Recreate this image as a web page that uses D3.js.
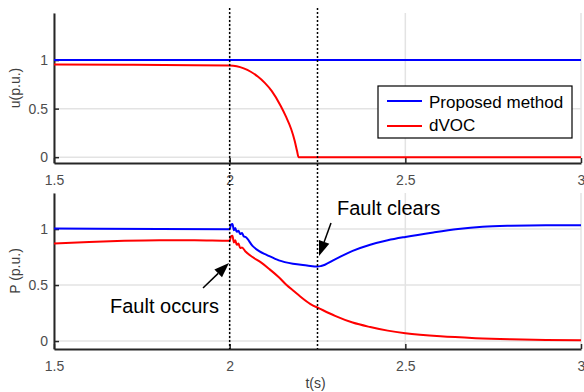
<!DOCTYPE html>
<html>
<head>
<meta charset="utf-8">
<script src="https://cdn.jsdelivr.net/npm/d3@7"></script>
<style>
    body { margin: 0; background: #fff; }
    text { font-family: Arial, "Liberation Sans", sans-serif; }
</style>
</head>
<body>
<svg id="chart" width="584" height="392"></svg>
<script>
// top panel: voltage u
let tU = [1.5, 1.7, 1.9, 2.0, 2.02, 2.04, 2.06, 2.08, 2.10, 2.12, 2.145, 2.16, 2.175, 2.185, 2.192, 2.196, 2.5, 3.0]
let uProposed = [1, 1, 1, 1, 1, 1, 1, 1, 1, 1, 1, 1, 1, 1, 1, 1, 1, 1]
let uDvoc = [0.955, 0.952, 0.948, 0.945, 0.937, 0.915, 0.88, 0.83, 0.765, 0.68, 0.53, 0.42, 0.29, 0.17, 0.06, 0, 0, 0]

// bottom panel: active power P
let tPb = [1.5, 1.8, 2.0, 2.004, 2.008, 2.012, 2.016, 2.02, 2.025, 2.03, 2.035, 2.04, 2.045, 2.065, 2.085, 2.105,
    2.14, 2.18, 2.22, 2.25, 2.26, 2.3, 2.35, 2.4, 2.45, 2.5, 2.58, 2.65, 2.72, 2.8, 2.9, 3.0]
let pProposed = [1.005, 1.0, 0.998, 1.04, 1.045, 0.99, 1.01, 0.975, 0.985, 0.955, 0.965, 0.935, 0.93, 0.85, 0.80, 0.77,
    0.72, 0.69, 0.675, 0.665, 0.67, 0.73, 0.805, 0.86, 0.9, 0.93, 0.97, 1.0, 1.02, 1.03, 1.035, 1.033]
let tPr = [1.5, 1.6, 1.7, 1.8, 1.9, 2.0, 2.004, 2.008, 2.012, 2.016, 2.02, 2.025, 2.03, 2.035, 2.045, 2.065, 2.09, 2.114,
    2.14, 2.162, 2.185, 2.2, 2.23, 2.256, 2.3, 2.35, 2.4, 2.45, 2.5, 2.6, 2.7, 2.8, 2.9, 3.0]
let pDvoc = [0.87, 0.885, 0.895, 0.9, 0.9, 0.895, 0.935, 0.94, 0.88, 0.9, 0.86, 0.87, 0.83, 0.835, 0.8, 0.75, 0.7, 0.64,
    0.57, 0.5, 0.44, 0.40, 0.33, 0.29, 0.225, 0.165, 0.125, 0.093, 0.07, 0.042, 0.026, 0.016, 0.01, 0.008]

let xTicks = [1.5, 2, 2.5, 3]
let yTicks = [0, 0.5, 1]
let faultTimes = [2, 2.25]
let seriesNames = ['Proposed method', 'dVOC']
let colors = ['#0000ff', '#ff0000']

let svg = d3.select('#chart')

let xScale = d3.scaleLinear().domain([1.5, 3]).range([54, 581])
let yTop = d3.scaleLinear().domain([-0.06, 1.485]).range([163, 13])
let yBot = d3.scaleLinear().domain([-0.071, 1.322]).range([349, 193])

function drawPanel(yScale, label) {
    let y0 = yScale.range()[0], y1 = yScale.range()[1]
    let g = svg.append('g')

    // grid
    g.selectAll('.hgrid').data(yTicks).enter().append('line')
        .attr('x1', xScale(1.5)).attr('x2', xScale(3))
        .attr('y1', d => yScale(d)).attr('y2', d => yScale(d))
        .attr('stroke', '#e3e3e3').attr('stroke-width', 1.5)
    g.selectAll('.vgrid').data(xTicks).enter().append('line')
        .attr('x1', d => xScale(d)).attr('x2', d => xScale(d))
        .attr('y1', y0).attr('y2', y1)
        .attr('stroke', '#e3e3e3').attr('stroke-width', 1.5)

    // x-axis, ticks pointing in
    let xAxis = g.append('g')
        .attr('transform', `translate(0, ${y0})`)
        .call(d3.axisBottom(xScale).tickValues(xTicks).tickFormat(d3.format('')).tickSizeInner(-5).tickSizeOuter(0).tickPadding(12))
    // y-axis
    let yAxis = g.append('g')
        .attr('transform', `translate(${xScale(1.5)}, 0)`)
        .call(d3.axisLeft(yScale).tickValues(yTicks).tickFormat(d3.format('')).tickSizeInner(-5).tickSizeOuter(0).tickPadding(6))

    for (let ax of [xAxis, yAxis]) {
        ax.select('.domain').attr('stroke', '#262626').attr('stroke-width', 2)
        ax.selectAll('.tick line').attr('stroke', '#262626').attr('stroke-width', 1.5)
        ax.selectAll('.tick text').attr('fill', '#4d4d4d').style('font-size', '14px')
    }

    // y-axis label
    g.append('text')
        .text(label)
        .attr('transform', `translate(20, ${(y0 + y1) / 2}) rotate(-90)`)
        .attr('text-anchor', 'middle')
        .attr('fill', '#404040')
        .style('font-size', '14px')
}

drawPanel(yTop, 'u(p.u.)')
drawPanel(yBot, 'P (p.u.)')

let line = (ts, vals, yScale) => d3.line()
    .x((d, i) => xScale(ts[i]))
    .y(d => yScale(d))
    .curve(d3.curveMonotoneX)(vals)

let curves = [
    [tU, uProposed, yTop, 0], [tU, uDvoc, yTop, 1],
    [tPb, pProposed, yBot, 0], [tPr, pDvoc, yBot, 1]
]
curves.forEach(c => {
    svg.append('path')
        .attr('d', line(c[0], c[1], c[2]))
        .attr('fill', 'none')
        .attr('stroke', colors[c[3]])
        .attr('stroke-width', 2)
        .attr('stroke-linejoin', 'round')
})

// fault markers
svg.selectAll('.fault').data(faultTimes).enter().append('line')
    .attr('x1', d => xScale(d)).attr('x2', d => xScale(d))
    .attr('y1', 8).attr('y2', 349)
    .attr('stroke', '#000').attr('stroke-width', 1.5)
    .attr('stroke-dasharray', '2,2')

// x label
svg.append('text')
    .text('t(s)')
    .attr('x', (xScale(1.5) + xScale(3)) / 2 - 2).attr('y', 388)
    .attr('text-anchor', 'middle')
    .attr('fill', '#404040')
    .style('font-size', '14px')

// legend
let leg = svg.append('g')
leg.append('rect')
    .attr('x', 378).attr('y', 86).attr('width', 194).attr('height', 52)
    .attr('fill', '#fff').attr('stroke', '#000').attr('stroke-width', 1.2)
seriesNames.forEach((name, i) => {
    leg.append('line')
        .attr('x1', 387).attr('x2', 422)
        .attr('y1', 101 + i * 25).attr('y2', 101 + i * 25)
        .attr('stroke', colors[i]).attr('stroke-width', 2)
    leg.append('text')
        .text(name)
        .attr('x', 429).attr('y', 108 + i * 23)
        .attr('fill', '#000')
        .style('font-size', '17px')
})

// annotation arrows, head drawn as a filled triangle
function arrow(x1, y1, x2, y2) {
    let len = 15, half = 5.5
    let dx = x2 - x1, dy = y2 - y1
    let d = Math.sqrt(dx * dx + dy * dy)
    let ux = dx / d, uy = dy / d
    let bx = x2 - ux * len, by = y2 - uy * len
    svg.append('line')
        .attr('x1', x1).attr('y1', y1).attr('x2', bx).attr('y2', by)
        .attr('stroke', '#000').attr('stroke-width', 1.5)
    svg.append('path')
        .attr('d', `M${x2},${y2} L${bx - uy * half},${by + ux * half} L${bx + uy * half},${by - ux * half} Z`)
        .attr('fill', '#000')
}

svg.append('text')
    .text('Fault occurs')
    .attr('x', 110).attr('y', 313)
    .style('font-size', '20px')
arrow(203, 288, 229, 263)

svg.append('text')
    .text('Fault clears')
    .attr('x', 337).attr('y', 215)
    .style('font-size', '20px')
arrow(331, 223, 319, 256)
</script>
</body>
</html>
